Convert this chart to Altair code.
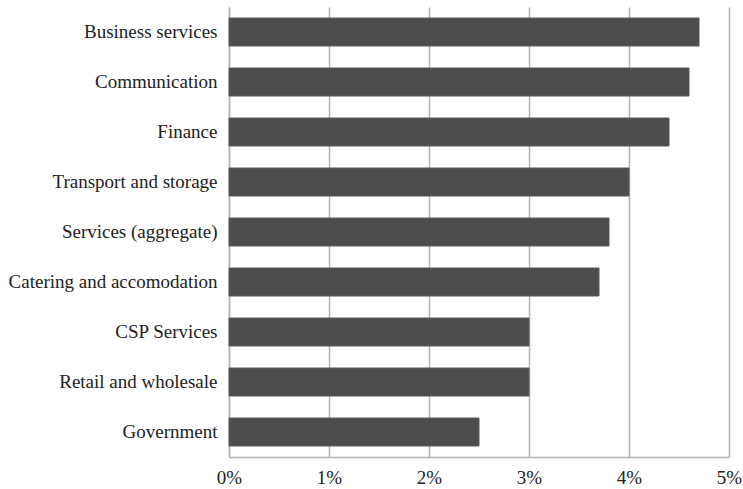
import altair as alt
import pandas as pd

categories = ["Business services", "Communication", "Finance", "Transport and storage",
              "Services (aggregate)", "Catering and accomodation", "CSP Services",
              "Retail and wholesale", "Government"]
values = [0.047, 0.046, 0.044, 0.040, 0.038, 0.037, 0.030, 0.030, 0.025]

df = pd.DataFrame({"cat": categories, "val": values})

FONT = "Times New Roman, Liberation Serif, serif"

chart = alt.Chart(df).mark_bar(color="#4d4d4d", stroke="#5a5a5a", strokeWidth=1).encode(
    x=alt.X("val:Q", scale=alt.Scale(domain=[0, 0.05], nice=False),
            axis=alt.Axis(format=".0%", values=[0, 0.01, 0.02, 0.03, 0.04, 0.05], title=None,
                          grid=True, gridColor="#b3b3b3", gridWidth=1.5,
                          domainColor="#b3b3b3", domainWidth=1.5, ticks=False,
                          labelFlush=False,
                          labelFont=FONT, labelFontSize=19, labelColor="#222222",
                          labelPadding=11)),
    y=alt.Y("cat:N", sort=categories, scale=alt.Scale(paddingInner=0.44, paddingOuter=0.22),
            axis=alt.Axis(title=None, ticks=False, domainColor="#b3b3b3", domainWidth=1.5,
                          labelFont=FONT, labelFontSize=19, labelColor="#222222",
                          labelPadding=12, labelLimit=300)),
).properties(
    width=500, height=450,
    autosize=alt.AutoSizeParams(type="none"),
    padding={"left": 229, "top": 7, "right": 14, "bottom": 32},
).configure_view(stroke=None)

chart.save("out.html", embed_options={"renderer": "svg", "actions": False})
